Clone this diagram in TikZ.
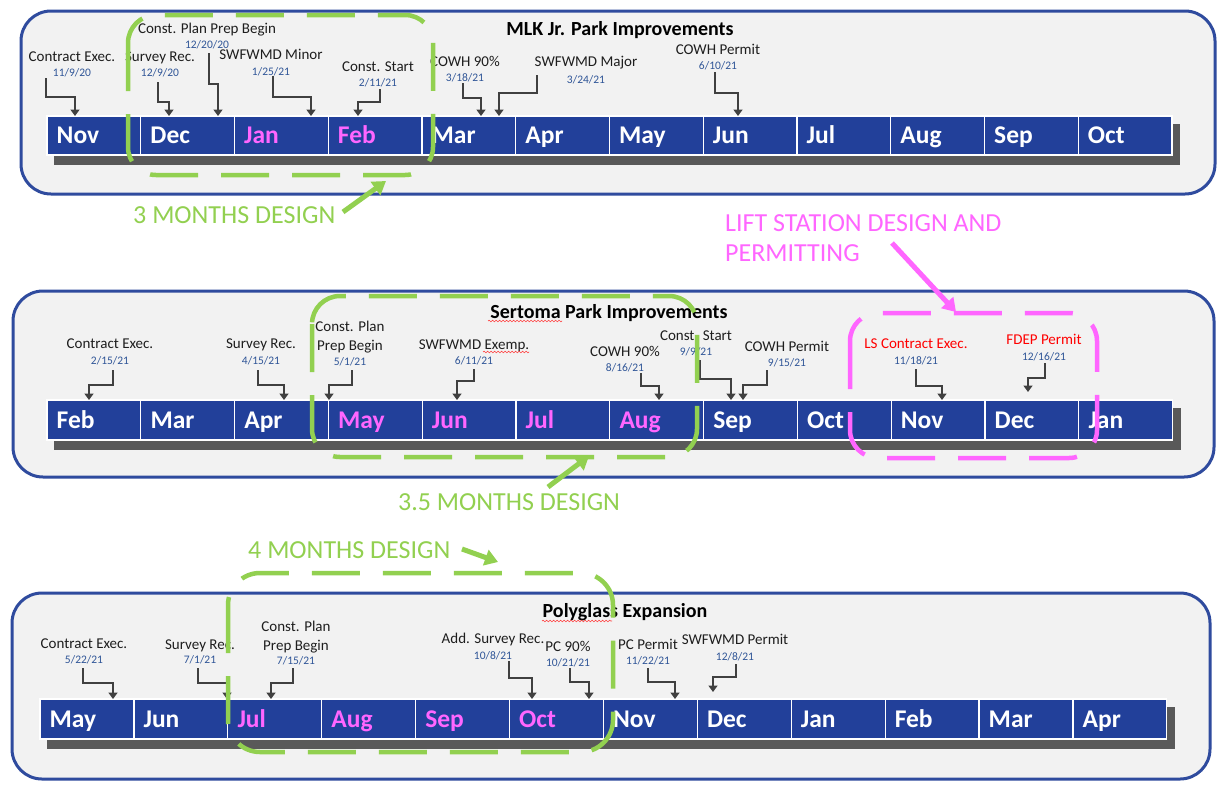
\documentclass[tikz,border=0pt]{standalone}
\usepackage{fontspec}
\setmainfont{Carlito}
\usetikzlibrary{arrows.meta,calc,decorations.pathmorphing}
\definecolor{pblue}{HTML}{2F4B9E}
\definecolor{cellblue}{HTML}{22409A}
\definecolor{pfill}{HTML}{F2F2F2}
\definecolor{shadowgray}{HTML}{595959}
\definecolor{dateblue}{HTML}{2F5597}
\definecolor{gr}{HTML}{92D050}
\definecolor{mag}{HTML}{FF66FF}
\definecolor{arrgray}{HTML}{404040}
\definecolor{lsred}{HTML}{FF0000}
\definecolor{txt}{HTML}{1E1E1E}
\tikzset{
  panel/.style={draw=pblue,line width=3pt,fill=pfill,rounded corners=30pt},
  cell/.style={draw=white,line width=1.2pt,fill=cellblue,inner sep=0pt,outer sep=0pt},
  month/.style={font=\fontsize{25.5}{28}\selectfont\bfseries,inner sep=0pt},
  lbl/.style={font=\fontsize{15}{17}\selectfont,text=txt,inner sep=0pt},
  dt/.style={font=\fontsize{11.5}{13}\selectfont,text=dateblue,inner sep=0pt},
  ttl/.style={font=\fontsize{20}{22}\selectfont\bfseries,text=black,inner sep=0pt},
  conn/.style={draw=arrgray,line width=1.6pt,-{Triangle[length=6.5pt,width=9pt]}},
  gdash/.style={draw=gr,line width=4.5pt,dash pattern=on 48pt off 23pt,rounded corners=28pt},
  mdash/.style={draw=mag,line width=4.5pt,dash pattern=on 48pt off 23pt,rounded corners=28pt},
  anno/.style={font=\fontsize{26}{30}\selectfont,inner sep=0pt},
  garrow/.style={draw=gr,line width=5pt,-{Triangle[length=13pt,width=16pt]}},
  marrow/.style={draw=mag,line width=5pt,-{Triangle[length=13pt,width=16pt]}},
  squig/.style={draw=red!75,line width=0.6pt,decorate,decoration={snake,amplitude=0.8pt,segment length=3.5pt}}
}
% month bar: prefix, x0, ytop, ybot, cell width, list
\newcommand\monthbar[6]{%
  \fill[shadowgray] (#2+7,#3+8) rectangle (#2+12*#5+8,#4+10);
  \foreach \mm/\mcol [count=\i from 0] in {#6} {
    \node[cell,minimum width=#5,minimum height=#4-#3,anchor=north west] (#1\i) at (#2+\i*#5,#3) {};
    \node[month,text=\mcol,anchor=base west] (#1t\i) at (#2+\i*#5+9.5,#4-11.5) {\mm};
  }}
% event: id, extra style, label, date, x, label y, date y
\newcommand\evt[7]{%
  \node[lbl,#2,anchor=base] (#1l) at (#5,#6+4.8) {#3};
  \node[dt,anchor=base] (#1d) at (#5,#7+3.6) {#4};}
% link: id, start x, start y, elbow y, end x, end y
\newcommand\link[6]{%
  \coordinate (#1s) at (#2,#3);
  \coordinate (#1k) at (#5,#4);
  \coordinate (#1e) at (#5,#6);
  \draw[conn] (#1s) |- (#1k) -- (#1e);}
\begin{document}
\begin{tikzpicture}[x=1pt,y=-1pt]
\useasboundingbox (0,0) rectangle (1217,785);
\fill[white] (0,0) rectangle (1217,785);

% ---------- panel 1 ----------
\draw[panel] (21,11) rectangle (1215,194);
\monthbar{ma}{47}{116}{155}{93.75}{Nov/white,Dec/white,Jan/mag,Feb/mag,Mar/white,Apr/white,May/white,Jun/white,Jul/white,Aug/white,Sep/white,Oct/white}
\node[ttl,anchor=base] (t1) at (620,35.5) {MLK Jr. Park Improvements};
\evt{a1}{}{Contract Exec.}{11/9/20}{72}{57}{73}
\link{a1}{46}{78}{97}{75}{116}
\evt{a2}{}{Survey Rec.}{12/9/20}{160}{57}{73}
\link{a2}{158}{82}{102}{169}{116}
\evt{a3}{}{Const. Plan Prep Begin}{12/20/20}{207}{29}{45}
\link{a3}{209}{53}{84}{218}{116}
\evt{a4}{}{SWFWMD Minor}{1/25/21}{271}{55}{72}
\link{a4}{273}{76}{97}{311}{116}
\evt{a5}{}{Const. Start}{2/11/21}{378}{67}{83}
\link{a5}{380}{89}{102}{358}{116}
\evt{a6}{}{COWH 90\%}{3/18/21}{465}{62}{78}
\link{a6}{463}{83}{98}{481}{116}
\evt{a7}{}{SWFWMD Major}{3/24/21}{586}{62}{80}
\link{a7}{537}{75}{93}{499}{116}
\evt{a8}{}{COWH Permit}{6/10/21}{718}{50}{66}
\link{a8}{715}{72}{93}{738}{116}

% ---------- panel 2 ----------
\draw[panel] (13,291) rectangle (1214,477);
\monthbar{mb}{47}{400}{440}{93.8}{Feb/white,Mar/white,Apr/white,May/mag,Jun/mag,Jul/mag,Aug/mag,Sep/white,Oct/white,Nov/white,Dec/white,Jan/white}
\node[ttl,anchor=base] (t2) at (609,318.5) {Sertoma Park Improvements};
\draw[squig] (488,321) -- (562,321);
\evt{b1}{}{Contract Exec.}{2/15/21}{110}{344}{361}
\link{b1}{113}{370}{385}{89}{400}
\evt{b2}{}{Survey Rec.}{4/15/21}{261}{344}{361}
\link{b2}{258}{370}{385}{284}{400}
\node[lbl,anchor=base] (b3l) at (350,331.8) {Const. Plan};
\node[lbl,anchor=base] (b3m) at (350,350.8) {Prep Begin};
\node[dt,anchor=base] (b3d) at (350,365.6) {5/1/21};
\link{b3}{352}{370}{385}{329}{400}
\evt{b4}{}{SWFWMD Exemp.}{6/11/21}{474}{345}{361}
\draw[squig] (483,352) -- (529,352);
\link{b4}{474}{369}{381}{457}{400}
\evt{b5}{}{COWH 90\%}{8/16/21}{625}{352}{368}
\link{b5}{641}{373}{386}{659}{400}
\evt{b6}{}{Const. Start}{9/9/21}{696}{336}{352}
\link{b6}{700}{360}{379}{731}{400}
\evt{b7}{}{COWH Permit}{9/15/21}{787}{347}{363}
\link{b7}{767}{370}{385}{743}{400}
\evt{b8}{text=lsred}{LS Contract Exec.}{11/18/21}{916}{344}{361}
\link{b8}{916}{369}{386}{942}{400}
\evt{b9}{text=lsred}{FDEP Permit}{12/16/21}{1044}{340}{357}
\link{b9}{1045}{363}{378}{1028}{392}

% ---------- panel 3 ----------
\draw[panel] (12,593) rectangle (1210,779);
\monthbar{mc}{40}{699}{739}{93.9}{May/white,Jun/white,Jul/mag,Aug/mag,Sep/mag,Oct/mag,Nov/white,Dec/white,Jan/white,Feb/white,Mar/white,Apr/white}
\node[ttl,anchor=base] (t3) at (625,617.5) {Polyglass Expansion};
\draw[squig] (542,621) -- (612,621);
\evt{c1}{}{Contract Exec.}{5/22/21}{84}{644}{660}
\link{c1}{83}{668}{683}{113}{699}
\evt{c2}{}{Survey Rec.}{7/1/21}{200}{645}{660}
\link{c2}{198}{668}{683}{227}{699}
\node[lbl,anchor=base] (c3l) at (296,631.8) {Const. Plan};
\node[lbl,anchor=base] (c3m) at (296,650.8) {Prep Begin};
\node[dt,anchor=base] (c3d) at (296,664.6) {7/15/21};
\link{c3}{293}{668}{683}{271}{699}
\evt{c4}{}{Add. Survey Rec.}{10/8/21}{493}{639}{656}
\link{c4}{509}{661}{678}{532}{699}
\evt{c5}{}{PC 90\%}{10/21/21}{568}{647}{663}
\link{c5}{570}{668}{682}{589}{699}
\evt{c6}{}{PC Permit}{11/22/21}{648}{645}{661}
\link{c6}{648}{668}{682}{675}{699}
\evt{c7}{}{SWFWMD Permit}{12/8/21}{735}{640}{657}
\link{c7}{736}{664}{677}{713}{692}

% ---------- highlight boxes ----------
\draw[gdash] (128,15) rectangle (433,175);
\draw[gdash] (312,296) rectangle (697,457);
\draw[gdash,rounded corners=32pt] (228,573) rectangle (613,752);
\draw[mdash] (850,313) rectangle (1097,458);

% ---------- annotations ----------
\node[anno,text=gr,anchor=base west] (g1) at (133,223.5) {3 MONTHS DESIGN};
\coordinate (g1s) at (343,212); \coordinate (g1t) at (386,181);
\draw[garrow] (g1s) -- (g1t);
\node[anno,text=gr,anchor=base west] (g2) at (398,510.5) {3.5 MONTHS DESIGN};
\coordinate (g2s) at (548,487); \coordinate (g2t) at (589,456);
\draw[garrow] (g2s) -- (g2t);
\node[anno,text=gr,anchor=base west] (g3) at (248,558.5) {4 MONTHS DESIGN};
\coordinate (g3s) at (462,549); \coordinate (g3t) at (498,562);
\draw[garrow] (g3s) -- (g3t);
\node[anno,text=mag,anchor=base west] (m1) at (725,231.5) {LIFT STATION DESIGN AND};
\node[anno,text=mag,anchor=base west] (m2) at (725,261.5) {PERMITTING};
\coordinate (m1s) at (892,243); \coordinate (m1t) at (956,312);
\draw[marrow] (m1s) -- (m1t);
\end{tikzpicture}
\end{document}
